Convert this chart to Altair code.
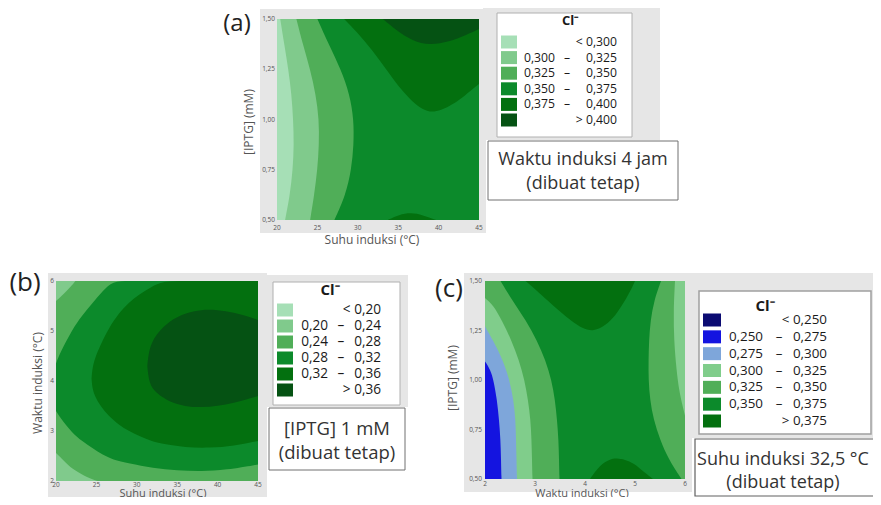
import altair as alt
import pandas as pd

OFF = 8  # page margin: picture coordinates -> chart coordinates
FONT = "Open Sans"

# ---------------- palettes (legend order, low -> high) ----------------
GREENS6 = ["#a6dfb6", "#80ca8c", "#50ae58", "#0c8a2b", "#03700f", "#055213"]
BLUEGREEN7 = ["#0b0b72", "#1414e0", "#7ea6da", "#80cd8b", "#50ae58", "#0c8a2b", "#03700f"]

# ---------------- panel (a): Suhu x [IPTG], waktu 4 jam ----------------
A_XTICKS = [20, 25, 30, 35, 40, 45]
A_YTICKS = [0.50, 0.75, 1.00, 1.25, 1.50]
A_YTICK_LABELS = ["0,50", "0,75", "1,00", "1,25", "1,50"]
A_BAND_Y = [1.50, 1.375, 1.25, 1.125, 1.00, 0.875, 0.75, 0.625, 0.50]
A_EDGE_300 = [20.4, 20.9, 21.4, 21.8, 22.0, 22.1, 21.95, 21.6, 21.0]
A_EDGE_325 = [22.4, 23.2, 24.1, 24.8, 25.2, 25.2, 25.0, 24.6, 24.1]
A_EDGE_350 = [25.0, 26.4, 27.9, 29.0, 29.5, 29.5, 29.2, 28.5, 27.1]
A_TOP375_X = [28.3, 30.0, 31.8, 33.5, 35.1, 36.5, 37.6, 38.9, 40.3, 41.8, 43.3, 45.0]
A_TOP375_Y = [1.50, 1.43, 1.345, 1.25, 1.16, 1.10, 1.059, 1.034, 1.045, 1.076, 1.12, 1.177]
A_TOP400_X = [33.1, 34.7, 36.8, 38.9, 41.3, 43.4, 45.0]
A_TOP400_Y = [1.50, 1.446, 1.39, 1.37, 1.387, 1.42, 1.45]
A_BOT375_X = [33.7, 35.1, 36.6, 38.0, 39.7]
A_BOT375_Y = [0.50, 0.527, 0.537, 0.525, 0.50]
A_LEG_LO = ["", "0,300", "0,325", "0,350", "0,375", ""]
A_LEG_MID = ["", "–", "–", "–", "–", ""]
A_LEG_HI = ["< 0,300", "0,325", "0,350", "0,375", "0,400", "> 0,400"]

# ---------------- panel (b): Suhu x Waktu, IPTG 1 mM ----------------
B_XTICKS = [20, 25, 30, 35, 40, 45]
B_YTICKS = [2, 3, 4, 5, 6]
B_YTICK_LABELS = ["2", "3", "4", "5", "6"]
B_TL_X = [20.0, 21.0, 21.8, 22.4]
B_TL_Y = [5.6, 5.75, 5.88, 6.0]
B_BL_X = [20.0, 21.0, 22.0, 23.5, 25.1]
B_BL_Y = [2.56, 2.4, 2.24, 2.1, 2.0]
B_R28_X = [20, 20.5, 22, 23.2, 24.5, 25.8, 27.0, 29, 32, 35, 38, 41, 45]
B_R28_HI = [4.35, 4.56, 5.03, 5.3, 5.56, 5.8, 6.0, 6, 6, 6, 6, 6, 6]
B_R28_LO = [3.4, 3.27, 2.96, 2.8, 2.66, 2.52, 2.43, 2.35, 2.26, 2.21, 2.19, 2.22, 2.33]
B_R32_X = [24.4, 24.5, 24.8, 25.5, 26.5, 27.8, 29, 30.3, 31.8, 33.2, 36, 39, 42, 45]
B_R32_HI = [4.05, 4.25, 4.45, 4.72, 5.05, 5.36, 5.57, 5.73, 5.88, 6.0, 6, 6, 6, 6]
B_R32_LO = [4.05, 3.85, 3.7, 3.5, 3.3, 3.12, 3.0, 2.9, 2.8, 2.74, 2.67, 2.66, 2.7, 2.8]
B_R36_X = [31.3, 31.45, 31.8, 32.5, 34, 36, 38, 40, 42, 44, 45]
B_R36_HI = [4.3, 4.55, 4.75, 4.95, 5.2, 5.36, 5.43, 5.42, 5.37, 5.28, 5.22]
B_R36_LO = [4.3, 4.05, 3.88, 3.75, 3.58, 3.49, 3.47, 3.5, 3.56, 3.65, 3.70]
B_LEG_LO = ["", "0,20", "0,24", "0,28", "0,32", ""]
B_LEG_MID = ["", "–", "–", "–", "–", ""]
B_LEG_HI = ["< 0,20", "0,24", "0,28", "0,32", "0,36", "> 0,36"]

# ---------------- panel (c): Waktu x [IPTG], suhu 32,5 C ----------------
C_XTICKS = [2, 3, 4, 5, 6]
C_YTICKS = [0.50, 0.75, 1.00, 1.25, 1.50]
C_YTICK_LABELS = ["0,50", "0,75", "1,00", "1,25", "1,50"]
C_D_Y = [0.5, 0.6, 0.7, 0.8, 0.9, 1.0, 1.1, 1.2, 1.3, 1.4, 1.5]
C_D_X = [3.49, 3.48, 3.47, 3.44, 3.40, 3.33, 3.21, 3.04, 2.82, 2.55, 2.31]
C_C_Y = [0.5, 0.6, 0.7, 0.8, 0.9, 1.0, 1.1, 1.2, 1.3, 1.38, 1.414]
C_C_X = [2.95, 2.94, 2.93, 2.91, 2.86, 2.79, 2.68, 2.53, 2.34, 2.16, 2.0]
C_B_Y = [0.5, 0.6, 0.7, 0.8, 0.9, 1.0, 1.1, 1.2, 1.271]
C_B_X = [2.64, 2.63, 2.62, 2.61, 2.57, 2.49, 2.36, 2.16, 2.0]
C_A_Y = [0.5, 0.6, 0.7, 0.8, 0.9, 1.0, 1.05, 1.094]
C_A_X = [2.33, 2.32, 2.31, 2.28, 2.24, 2.17, 2.11, 2.0]
C_RM_Y = [0.5, 0.6, 0.7, 0.8, 0.9, 1.0, 1.1, 1.2, 1.3, 1.4, 1.5]
C_RM_X = [5.93, 5.67, 5.5, 5.37, 5.3, 5.27, 5.27, 5.28, 5.31, 5.38, 5.52]
C_RL_Y = [0.82, 0.87, 0.95, 1.05, 1.2, 1.35, 1.5]
C_RL_X = [6.0, 5.95, 5.88, 5.83, 5.78, 5.77, 5.80]
C_TOP_X = [2.81, 3.0, 3.27, 3.5, 3.74, 3.95, 4.15, 4.35, 4.57, 4.72, 4.83, 4.93, 5.0]
C_TOP_Y = [1.5, 1.46, 1.397, 1.345, 1.296, 1.26, 1.246, 1.265, 1.313, 1.37, 1.414, 1.46, 1.5]
C_BOT_X = [4.1, 4.3, 4.5, 4.63, 4.8, 4.97, 5.2, 5.36]
C_BOT_Y = [0.5, 0.572, 0.6, 0.606, 0.598, 0.581, 0.53, 0.5]
C_LEG_LO = ["", "0,250", "0,275", "0,300", "0,325", "0,350", ""]
C_LEG_MID = ["", "–", "–", "–", "–", "–", ""]
C_LEG_HI = ["< 0,250", "0,275", "0,300", "0,325", "0,350", "0,375", "> 0,375"]


# ---------------- helpers ----------------
def one():
    return pd.DataFrame({"k": [0]})


def lin(domain, pix):
    return alt.Scale(domain=domain, range=[pix[0] - OFF, pix[1] - OFF], nice=False, zero=False)


def box(x0, x1, y0, y1, fill, stroke=None, sw=1.0):
    kw = {"fill": fill}
    if stroke:
        kw.update(stroke=stroke, strokeWidth=sw)
    return alt.Chart(one()).mark_rect(**kw).encode(
        x=alt.value(x0 - OFF), x2=alt.value(x1 - OFF),
        y=alt.value(y0 - OFF), y2=alt.value(y1 - OFF))


def label(txt, x, y, size, color="#333333", angle=0, weight="normal", align="center"):
    kw = dict(font=FONT, fontSize=size, color=color, align=align, baseline="middle", fontWeight=weight)
    if angle:
        kw["angle"] = angle
    return alt.Chart(pd.DataFrame({"t": [txt]})).mark_text(**kw).encode(
        x=alt.value(x - OFF), y=alt.value(y - OFF), text="t:N")


def base_rect(xdom, ydom, color, sx, sy):
    df = pd.DataFrame({"x0": [xdom[0]], "x1": [xdom[1]], "y0": [ydom[0]], "y1": [ydom[1]]})
    return alt.Chart(df).mark_rect(color=color).encode(
        x=alt.X("x0:Q", scale=sx, axis=None), x2="x1:Q",
        y=alt.Y("y0:Q", scale=sy, axis=None), y2="y1:Q")


def harea(ys, xs, xedge, color, sx, sy):
    df = pd.DataFrame({"y": ys, "x": xs, "xe": [xedge] * len(ys)})
    return alt.Chart(df).mark_area(orient="horizontal", interpolate="basis", color=color).encode(
        y=alt.Y("y:Q", scale=sy, axis=None),
        x=alt.X("x:Q", scale=sx, axis=None), x2="xe:Q")


def varea(xs, lo, hi, color, sx, sy):
    df = pd.DataFrame({"x": xs, "lo": lo, "hi": hi})
    return alt.Chart(df).mark_area(orient="vertical", interpolate="basis", color=color).encode(
        x=alt.X("x:Q", scale=sx, axis=None),
        y=alt.Y("lo:Q", scale=sy, axis=None), y2="hi:Q")


def ticks(sx, sy, xt, xlab, xlab_y, yt, ylab, ylab_x):
    dx = pd.DataFrame({"v": xt, "lab": xlab})
    dy = pd.DataFrame({"v": yt, "lab": ylab})
    tx = alt.Chart(dx).mark_text(font=FONT, fontSize=6.5, color="#555555", baseline="middle").encode(
        x=alt.X("v:Q", scale=sx, axis=None), y=alt.value(xlab_y - OFF), text="lab:N")
    ty = alt.Chart(dy).mark_text(font=FONT, fontSize=6.5, color="#555555", align="right",
                                 baseline="middle").encode(
        y=alt.Y("v:Q", scale=sy, axis=None), x=alt.value(ylab_x - OFF), text="lab:N")
    return [tx, ty]


def legend(lo, mid, hi, palette, sw_x, sw_h, y_first, y_last, x_lo, x_mid, x_hi, size):
    n = len(hi)
    df = pd.DataFrame({"i": list(range(n)), "lo": lo, "mid": mid, "hi": hi})
    sy = alt.Scale(domain=[0, n - 1], range=[y_first - OFF, y_last - OFF], nice=False, zero=False)
    half = (sw_h / 2.0) / ((y_last - y_first) / (n - 1))
    cs = alt.Scale(domain=list(range(n)), range=palette)
    sw = alt.Chart(df).transform_calculate(
        ya=f"datum.i - {half}", yb=f"datum.i + {half}"
    ).mark_rect().encode(
        x=alt.value(sw_x[0] - OFF), x2=alt.value(sw_x[1] - OFF),
        y=alt.Y("ya:Q", scale=sy, axis=None), y2="yb:Q",
        color=alt.Color("i:O", scale=cs, legend=None))
    common = dict(font=FONT, fontSize=size, color="#1a1a1a", baseline="middle")
    t_lo = alt.Chart(df).mark_text(align="right", **common).encode(
        x=alt.value(x_lo - OFF), y=alt.Y("i:Q", scale=sy, axis=None), text="lo:N")
    t_mid = alt.Chart(df).mark_text(align="center", **common).encode(
        x=alt.value(x_mid - OFF), y=alt.Y("i:Q", scale=sy, axis=None), text="mid:N")
    t_hi = alt.Chart(df).mark_text(align="right", **common).encode(
        x=alt.value(x_hi - OFF), y=alt.Y("i:Q", scale=sy, axis=None), text="hi:N")
    return alt.layer(sw, t_lo, t_mid, t_hi)


# ---------------- panel (a) ----------------
ax = lin([20, 45], [277, 479])
ay = lin([0.5, 1.5], [220, 19])
P = GREENS6
panel_a = alt.layer(
    base_rect([20, 45], [0.5, 1.5], P[3], ax, ay),
    harea(A_BAND_Y, A_EDGE_350, 20, P[2], ax, ay),
    harea(A_BAND_Y, A_EDGE_325, 20, P[1], ax, ay),
    harea(A_BAND_Y, A_EDGE_300, 20, P[0], ax, ay),
    varea(A_TOP375_X, A_TOP375_Y, [1.5] * len(A_TOP375_X), P[4], ax, ay),
    varea(A_TOP400_X, A_TOP400_Y, [1.5] * len(A_TOP400_X), P[5], ax, ay),
    varea(A_BOT375_X, [0.5] * len(A_BOT375_X), A_BOT375_Y, P[4], ax, ay),
    *ticks(ax, ay, A_XTICKS, [str(v) for v in A_XTICKS], 228,
           A_YTICKS, A_YTICK_LABELS, 275),
)

# ---------------- panel (b) ----------------
bx = lin([20, 45], [56, 258])
by = lin([2, 6], [481, 281])
panel_b = alt.layer(
    base_rect([20, 45], [2, 6], P[2], bx, by),
    varea(B_TL_X, B_TL_Y, [6] * len(B_TL_X), P[1], bx, by),
    varea(B_BL_X, [2] * len(B_BL_X), B_BL_Y, P[1], bx, by),
    varea(B_R28_X, B_R28_LO, B_R28_HI, P[3], bx, by),
    varea(B_R32_X, B_R32_LO, B_R32_HI, P[4], bx, by),
    varea(B_R36_X, B_R36_LO, B_R36_HI, P[5], bx, by),
    *ticks(bx, by, B_XTICKS, [str(v) for v in B_XTICKS], 485,
           B_YTICKS, B_YTICK_LABELS, 54),
)

# ---------------- panel (c) ----------------
cx = lin([2, 6], [485, 685])
cy = lin([0.5, 1.5], [479, 281])
Q = BLUEGREEN7
panel_c = alt.layer(
    base_rect([2, 6], [0.5, 1.5], Q[5], cx, cy),
    harea(C_D_Y, C_D_X, 2, Q[4], cx, cy),
    harea(C_C_Y, C_C_X, 2, Q[3], cx, cy),
    harea(C_B_Y, C_B_X, 2, Q[2], cx, cy),
    harea(C_A_Y, C_A_X, 2, Q[1], cx, cy),
    harea(C_RM_Y, C_RM_X, 6, Q[4], cx, cy),
    harea(C_RL_Y, C_RL_X, 6, Q[3], cx, cy),
    varea(C_TOP_X, C_TOP_Y, [1.5] * len(C_TOP_X), Q[6], cx, cy),
    varea(C_BOT_X, [0.5] * len(C_BOT_X), C_BOT_Y, Q[6], cx, cy),
    *ticks(cx, cy, C_XTICKS, [str(v) for v in C_XTICKS], 484,
           C_YTICKS, C_YTICK_LABELS, 482),
)

GRAY = "#e6e6e6"
layers = [
    # gray frames
    box(260, 486, 9, 233, GRAY),
    box(483, 660, 8, 140, GRAY),
    box(48, 267, 273, 497, GRAY),
    box(267, 408, 275, 407, GRAY),
    box(464, 692, 273, 492, GRAY),
    box(692, 880, 273, 438, GRAY),
    # contour panels
    panel_a, panel_b, panel_c,
    # axis titles
    label("Suhu induksi (°C)", 372, 240, 12, "#555555"),
    label("[IPTG] (mM)", 249, 122, 12, "#555555", angle=270),
    label("Suhu induksi (°C)", 163, 493.5, 11, "#555555"),
    label("Waktu induksi (°C)", 38, 383, 12, "#555555", angle=270),
    label("Waktu induksi (°C)", 582, 493.5, 11, "#555555"),
    label("[IPTG] (mM)", 453, 378, 12, "#555555", angle=270),
    # panel letters
    label("(a)", 237, 24, 24, "#222222"),
    label("(b)", 25, 283, 26, "#222222"),
    label("(c)", 449, 289, 26, "#222222"),
    # legend boxes
    box(497, 632, 13, 137, "#ffffff", "#b0b0b0", 1),
    box(273, 400, 282, 405, "#ffffff", "#b0b0b0", 1),
    box(699, 871, 291, 434, "#ffffff", "#a0a0a0", 1.5),
    label("Cl⁻", 570, 21, 13, "#1a1a1a", weight="bold"),
    label("Cl⁻", 330, 290, 15, "#1a1a1a", weight="bold"),
    label("Cl⁻", 765, 306, 15, "#1a1a1a", weight="bold"),
    legend(A_LEG_LO, A_LEG_MID, A_LEG_HI, GREENS6, (501, 517), 13, 42, 120, 555, 567, 617, 12.2),
    legend(B_LEG_LO, B_LEG_MID, B_LEG_HI, GREENS6, (277, 293), 13, 310, 390, 328, 341, 381, 13.6),
    legend(C_LEG_LO, C_LEG_MID, C_LEG_HI, BLUEGREEN7, (703, 721), 13, 320, 421, 763, 779, 827, 13.4),
    # annotation boxes
    box(488, 678, 141, 200, "#ffffff", "#707070", 1),
    label("Waktu induksi 4 jam", 583, 160, 18),
    label("(dibuat tetap)", 583, 184, 18),
    box(269, 405, 408, 470, "#ffffff", "#707070", 1),
    label("[IPTG] 1 mM", 337, 429, 18.5),
    label("(dibuat tetap)", 337, 453, 18.5),
    box(695, 880, 439, 496, "#ffffff", "#606060", 1.2),
    label("Suhu induksi 32,5 °C", 783, 460, 18),
    label("(dibuat tetap)", 783, 483, 18),
]

chart = alt.layer(*layers).resolve_scale(
    x="independent", y="independent", color="independent"
).properties(
    width=865, height=489, padding=0,
    autosize=alt.AutoSizeParams(type="none"), background="white"
).configure_view(stroke=None)

chart.save("out.html", embed_options={"renderer": "svg", "actions": False})
